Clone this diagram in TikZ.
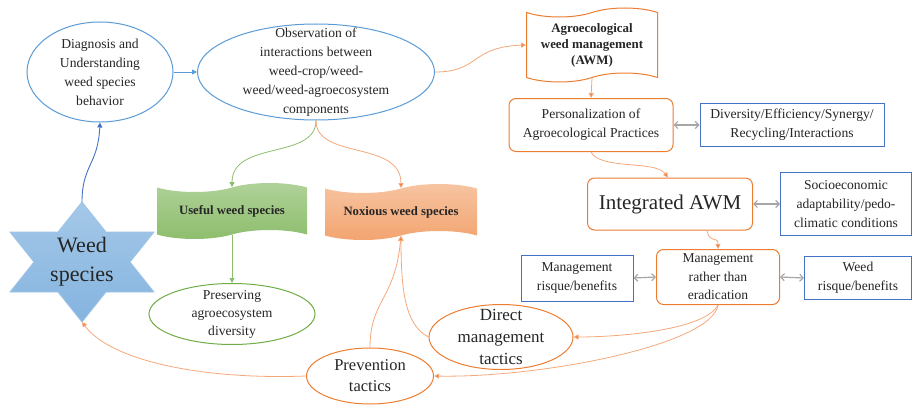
\documentclass[tikz,border=0pt]{standalone}
\usepackage{fontspec}
\setmainfont{Liberation Serif}
\newfontfamily\tnr{Liberation Serif}
\usetikzlibrary{shapes.symbols,shapes.geometric,arrows.meta}
\definecolor{cblue}{HTML}{5B9BD5}
\definecolor{cdblue}{HTML}{4472C4}
\definecolor{corange}{HTML}{ED7D31}
\definecolor{clor}{HTML}{F4A87A}
\definecolor{cgreen}{HTML}{70AD47}
\definecolor{cgray}{HTML}{A6A6A6}
\definecolor{ctext}{HTML}{262626}
\begin{document}
\begin{tikzpicture}[x=1pt,y=-1pt,
  txt/.style={align=center,text=ctext,font=\tnr\fontsize{13.6}{19}\selectfont},
  ell/.style={ellipse,inner sep=0,line width=1pt,fill=white},
  blueell/.style={ell,draw=cblue},
  orell/.style={ell,draw=corange},
  greenell/.style={ell,draw=cgreen},
  orbox/.style={rectangle,rounded corners=7pt,draw=corange,line width=1pt,inner sep=0,fill=white},
  bluebox/.style={rectangle,draw=cdblue,line width=1pt,inner sep=0,fill=white},
  banner/.style={tape,tape bend top=in and out,tape bend bottom=in and out,tape bend height=9pt,inner sep=0,line width=1pt},
  arr/.style={-{Triangle[length=5pt,width=5pt]}},
  bluearr/.style={arr,draw=cdblue,line width=0.9pt},
  lbluearr/.style={arr,draw=cblue,line width=0.9pt},
  orarr/.style={arr,draw=clor,line width=0.8pt,-{Triangle[length=5pt,width=5pt,fill=corange]}},
  grarr/.style={arr,draw=cgreen!80,line width=0.8pt},
  gray2/.style={draw=cgray,line width=1.2pt,{Straight Barb[length=3.5pt,width=7pt]}-{Straight Barb[length=3.5pt,width=7pt]}}
]
\useasboundingbox (0,0) rectangle (912,404);

% ellipses
\node[blueell,minimum width=146pt,minimum height=100pt,label={[txt]center:Diagnosis and\\Understanding\\weed species\\behavior}] (diag) at (100,72) {};
\node[blueell,minimum width=237pt,minimum height=96pt,label={[txt]center:Observation of\\interactions between\\weed-crop/weed-\\weed/weed-agroecosystem\\components}] (obs) at (316,72) {};

% AWM banner
\node[banner,draw=corange,fill=white,minimum width=131pt,minimum height=74pt,
  label={[txt,font=\tnr\bfseries\fontsize{12.9}{16}\selectfont]center:Agroecological\\weed management\\(AWM)}] (awm) at (592,45) {};

\node[orbox,minimum width=164pt,minimum height=53pt,label={[txt]center:Personalization of\\Agroecological Practices}] (pers) at (591,125) {};
\node[bluebox,minimum width=184pt,minimum height=43pt,label={[txt]center:Diversity/Efficiency/Synergy/\\Recycling/Interactions}] (div) at (792,125) {};

\node[orbox,minimum width=165pt,minimum height=52pt,label={[txt,font=\tnr\fontsize{21}{24}\selectfont]center:Integrated AWM}] (iawm) at (670,204) {};
\node[bluebox,minimum width=131pt,minimum height=63pt,label={[txt]center:Socioeconomic\\adaptability/pedo-\\climatic conditions}] (socio) at (846,204) {};

\node[orbox,minimum width=123pt,minimum height=55pt,label={[txt,font=\tnr\fontsize{13.6}{18.5}\selectfont]center:Management\\rather than\\eradication}] (mgmt) at (718,277) {};
\node[bluebox,minimum width=112pt,minimum height=46pt,label={[txt]center:Management\\risque/benefits}] (mrisk) at (577,278) {};
\node[bluebox,minimum width=107pt,minimum height=43pt,label={[txt]center:Weed\\risque/benefits}] (wrisk) at (858,278) {};

\node[orell,minimum width=144pt,minimum height=65pt,label={[txt,font=\tnr\fontsize{17}{22}\selectfont]center:Direct\\management\\tactics}] (direct) at (501,337) {};
\node[orell,minimum width=127pt,minimum height=56pt,label={[txt,font=\tnr\fontsize{16.5}{21}\selectfont]center:Prevention\\tactics}] (prev) at (370,376) {};

% weed banners
\node[banner,draw=none,top color=cgreen!55,bottom color=cgreen!80,minimum width=150pt,minimum height=56pt,
  label={[txt,font=\tnr\bfseries\fontsize{12.7}{16}\selectfont]center:Useful weed species}] (useful) at (232,211) {};
\node[banner,draw=none,top color=corange!45,bottom color=corange!70,minimum width=152pt,minimum height=56pt,
  label={[txt,font=\tnr\bfseries\fontsize{12.7}{16}\selectfont]center:Noxious weed species}] (noxious) at (401,212) {};

\node[greenell,minimum width=166pt,minimum height=61pt,label={[txt,font=\tnr\fontsize{13.6}{18}\selectfont]center:Preserving\\agroecosystem\\diversity}] (pres) at (232,314) {};

% star
\draw[draw=cblue!60,line width=0.8pt,top color=cblue!55,bottom color=cblue!75]
  (82,202) -- (106,232) -- (154,232) -- (130,262) -- (154,292) -- (106,292) -- (82,322)
  -- (58,292) -- (10,292) -- (34,262) -- (10,232) -- (58,232) -- cycle;
\coordinate (startop) at (82,202);
\coordinate (starbot) at (82,322);
\node[txt,font=\tnr\fontsize{22}{29}\selectfont] (weed) at (82,262) {Weed\\species};

% connectors
\draw[bluearr] (startop) .. controls (82,165) and (98,165) .. (diag.south);
\draw[lbluearr] (diag.east) -- (obs.west);
\draw[orarr] (obs.east) .. controls (480,72) and (470,47) .. (awm.west);
\draw[grarr] (obs.south) .. controls (316,160) and (232,140) .. (useful.north);
\draw[orarr] (obs.south) .. controls (316,160) and (401,140) .. (noxious.north);
\draw[grarr] (useful.south) -- (pres.north);
\draw[orarr] (awm.south) -- (pers.north);
\draw[orarr] (pers.south) .. controls (600,170) and (655,160) .. ([xshift=-2pt]iawm.north);
\draw[orarr] ([xshift=37pt]iawm.south) .. controls (710,245) and (718,235) .. (mgmt.north);
\draw[orarr] (mgmt.south) .. controls (705,330) and (620,337) .. (direct.east);
\draw[orarr] (mgmt.south) .. controls (712,345) and (540,378) .. (prev.east);
\draw[orarr] (direct.west) .. controls (405,325) and (401,290) .. (noxious.south);
\draw[orarr] (prev.north) .. controls (370,300) and (395,300) .. (noxious.south);
\draw[orarr] (prev.west) .. controls (200,380) and (110,360) .. (starbot);
\draw[gray2] (pers.east) -- (div.west);
\draw[gray2] (iawm.east) -- (socio.west);
\draw[gray2] (mrisk.east) -- (mgmt.west);
\draw[gray2] (mgmt.east) -- (wrisk.west);
\end{tikzpicture}
\end{document}
